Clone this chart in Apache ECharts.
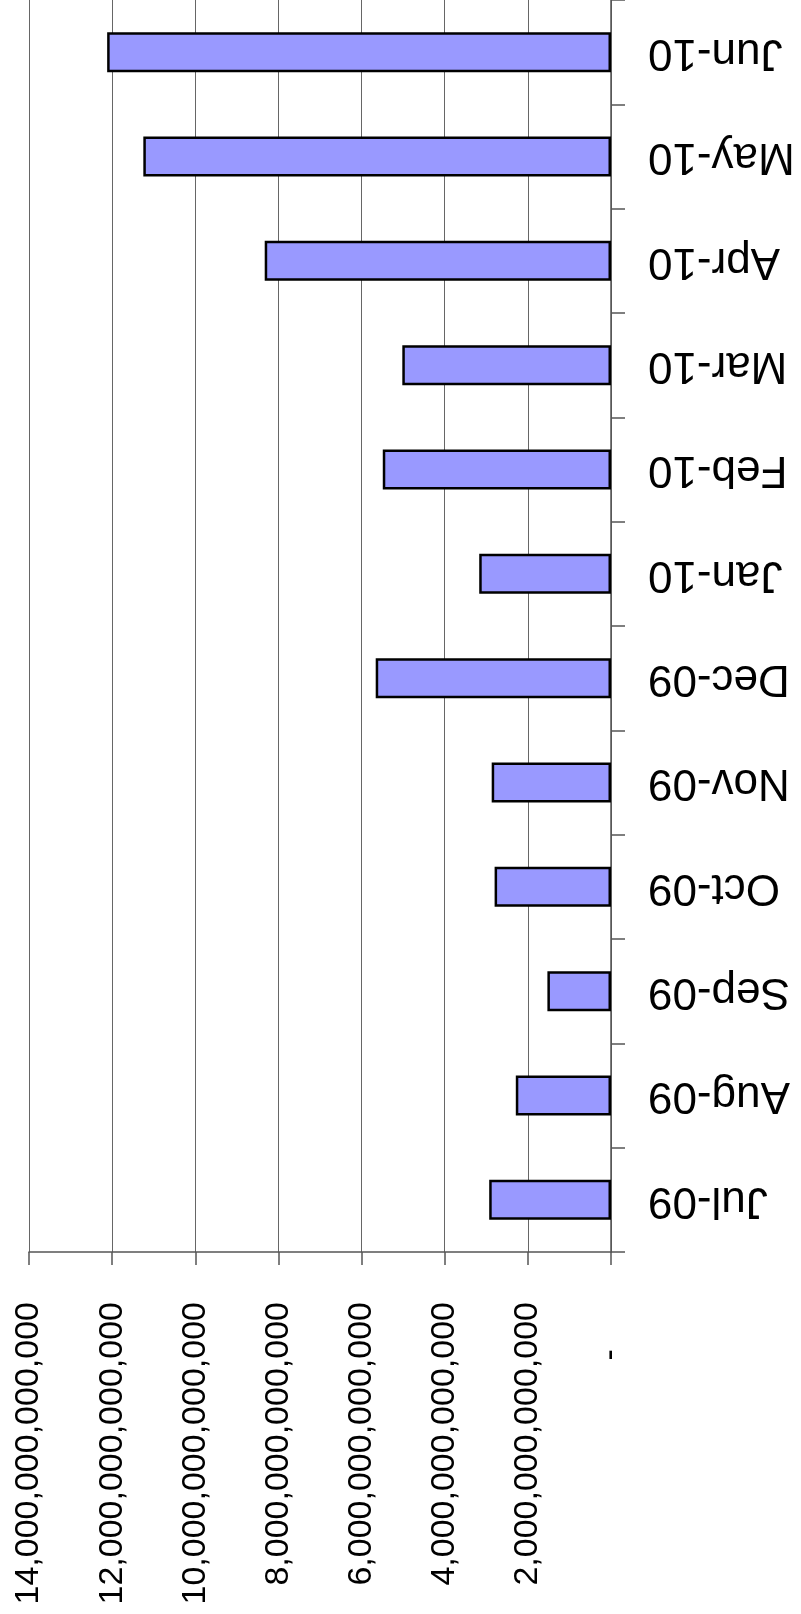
<!DOCTYPE html>
<html>
<head>
<meta charset="utf-8">
<script src="https://cdn.jsdelivr.net/npm/echarts@6/dist/echarts.min.js"></script>
<style>
  html, body { margin: 0; padding: 0; background: #fff; }
  #chart { width: 801px; height: 1614px; }
</style>
</head>
<body>
<div id="chart"></div>
<script>
// months, bottom to top
const months = ["Jul-09", "Aug-09", "Sep-09", "Oct-09", "Nov-09", "Dec-09",
                "Jan-10", "Feb-10", "Mar-10", "Apr-10", "May-10", "Jun-10"];
const amounts = [2.93e12, 2.29e12, 1.53e12, 2.80e12, 2.87e12, 5.66e12,
                 3.17e12, 5.49e12, 5.02e12, 8.33e12, 11.25e12, 12.12e12];
const axisMax = 14e12;
const axisStep = 2e12;

var chart = echarts.init(document.getElementById("chart"));
var option = {
  animation: false,
  backgroundColor: "#fff",
  grid: {
    left: 29,
    right: 190,
    top: 0,
    bottom: 362,
    containLabel: false,
    outerBoundsMode: "none",
  },
  xAxis: {
    type: "value",
    inverse: true,
    min: 0,
    max: axisMax,
    interval: axisStep,
    position: "bottom",
    axisLine: { show: true, lineStyle: { color: "#555", width: 1.5 } },
    axisTick: { show: true, length: 13, lineStyle: { color: "#555", width: 1.5 } },
    splitLine: { show: true, lineStyle: { color: "#666", width: 1 } },
    axisLabel: {
      rotate: 90,
      margin: 50,
      color: "#000",
      fontSize: 34,
      fontFamily: "'Liberation Sans', Arial, sans-serif",
      formatter: (v) => (v === 0 ? "-     " : v.toLocaleString("en-US")),
    },
  },
  yAxis: {
    type: "category",
    position: "right",
    data: months,
    axisLine: { show: true, lineStyle: { color: "#555", width: 1.5 } },
    axisTick: { show: true, length: 14, lineStyle: { color: "#555", width: 1.5 } },
    splitLine: { show: false },
    axisLabel: {
      rotate: 180,
      margin: 37,
      color: "#000",
      fontSize: 44,
      fontFamily: "'Liberation Sans', Arial, sans-serif",
    },
  },
  series: [
    {
      type: "bar",
      data: amounts,
      barWidth: 40,
      itemStyle: { color: "#9999ff", borderColor: "#000", borderWidth: 2.5 },
    },
  ],
};
chart.setOption(option);
</script>
</body>
</html>
